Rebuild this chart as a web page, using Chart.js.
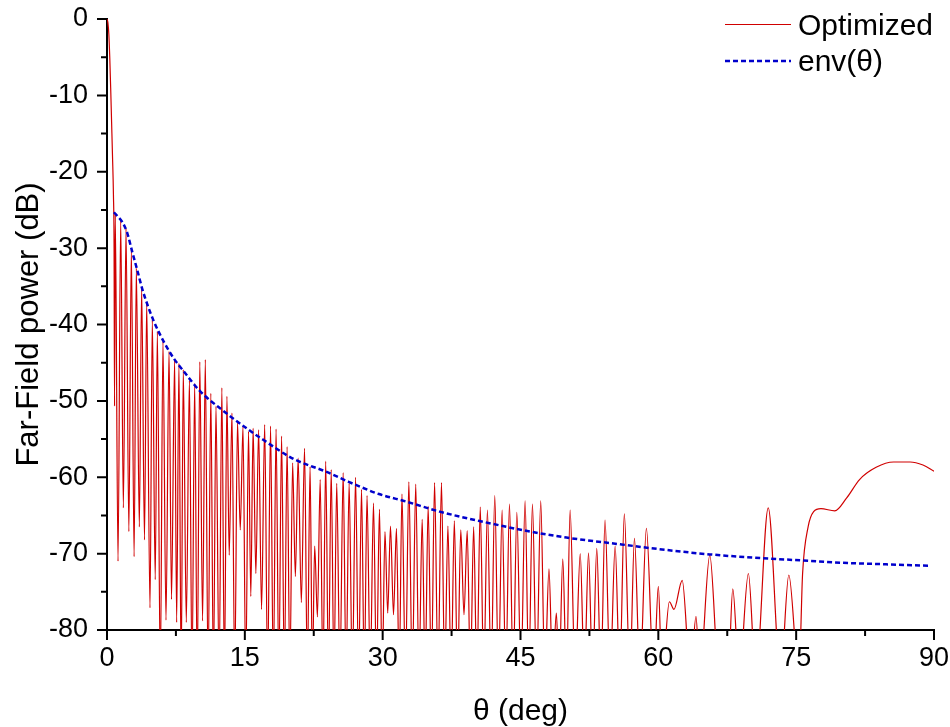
<!DOCTYPE html>
<html>
<head>
<meta charset="utf-8">
<script src="https://cdn.jsdelivr.net/npm/chart.js@4.4.1/dist/chart.umd.min.js"></script>
<style>
  html, body { margin: 0; padding: 0; background: #fff; }
  #farfield { display: block; }
</style>
</head>
<body>
<canvas id="farfield" width="950" height="727"></canvas>
<script>
// angle (deg) / far-field power (dB), peaks and nulls in order
const thetaOpt = [
  0, 0.1, 0.2, 0.3, 0.4, 0.5, 0.6, 0.7, 0.77, 0.82, 0.9, 1.2, 1.49, 1.78, 2.07, 2.38, 2.65, 2.95,
  3.19, 3.52, 3.77, 4.08, 4.32, 4.68, 4.93, 5.25, 5.48, 5.8, 6.09, 6.42, 6.75, 7.02, 7.36, 7.58, 7.83, 8.07, 8.3,
  8.63, 8.97, 9.25, 9.54, 9.82, 10.1, 10.4, 10.7, 11.0, 11.3, 11.58, 11.86, 12.2, 12.5, 12.78,
  13.05, 13.3, 13.6, 13.9, 14.2, 14.5, 14.8, 15.1, 15.4, 15.65, 15.9, 16.2, 16.5, 16.82,
  17.16, 17.48, 17.8, 18.1, 18.4, 18.7, 19.0, 19.3, 19.6, 19.9, 20.2, 20.5, 20.8, 21.15, 21.5,
  21.8, 22.1, 22.35, 22.6, 22.9, 23.2, 23.5, 23.8, 24.1, 24.4, 24.7, 25.0, 25.35, 25.7, 26.02,
  26.35, 26.7, 27.05, 27.38, 27.7, 28.0, 28.3, 28.65, 29.0, 29.33, 29.65, 29.95, 30.25, 30.55,
  30.85, 31.18, 31.5, 31.8, 32.1, 32.48, 32.85, 33.22, 33.6, 33.95, 34.3, 34.62, 34.95, 35.3,
  35.65, 36.02, 36.4, 36.75, 37.1, 37.45, 37.8, 38.15, 38.5, 38.85, 39.2, 39.55, 39.9, 40.25,
  40.62, 41.0, 41.4, 41.8, 42.2, 42.6, 43.0, 43.4, 43.8, 44.2, 44.6, 45.05, 45.5, 45.9,
  46.3, 46.75, 47.2, 47.65, 48.1, 48.5, 48.9, 49.2, 49.6, 50.0, 50.4, 50.95, 51.5, 51.95,
  52.4, 52.85, 53.3, 53.75, 54.2, 54.75, 55.3, 55.8, 56.3, 56.9, 57.4, 58.0, 58.7, 59.5,
  60.0, 60.4, 61.2, 61.7, 62.6, 63.5, 64.1, 64.5, 65.6, 66.6, 67.1, 67.6, 68.1, 68.8,
  69.8, 70.6, 71.96, 73.3, 74.2, 75.3, 75.7, 76.3, 76.9, 77.7, 79.2, 80.5, 81.9, 83.7,
  85.6, 87.4, 88.8, 90
];
const powerOpt = [
  0, -0.5, -2, -5, -9, -13.5, -18, -23, -30, -50.7, -25.5, -71, -26.3, -64, -27.4, -67.1, -30.2, -70.4,
  -32.6, -66.5, -35.2, -68.2, -37.2, -77.1, -39.4, -73.4, -40.9, -86, -42.2, -78.7, -43.5, -76, -44.6, -79, -45.1, -86, -45.9,
  -79, -47.3, -86, -47.7, -86, -44.9, -78.8, -44.6, -86, -49, -86, -50.7, -86, -48.3, -86,
  -49.4, -70.2, -51.6, -86, -52.7, -66.9, -53.4, -86, -54, -75.6, -53.6, -72.6, -53.8, -77.3,
  -53.1, -86, -53.3, -86, -53.7, -86, -54.6, -86, -56, -86, -58.1, -73, -57.5, -76.4, -56.2,
  -86, -58.6, -86, -69, -78.3, -60.3, -86, -57.9, -86, -59, -86, -60.8, -86, -59.4, -86,
  -60.8, -86, -60, -86, -61.6, -86, -62.4, -86, -63.4, -86, -64.2, -86, -67.1, -77.8,
  -66.4, -78, -66.7, -86, -62.2, -86, -60.6, -86, -60.9, -86, -65.5, -86, -63.8, -86,
  -60.7, -86, -60.7, -86, -66.4, -86, -65.7, -86, -66.9, -78, -67, -86, -66.5, -86,
  -63.9, -86, -64.3, -86, -62.4, -86, -64.3, -86, -63.5, -86, -64.6, -86, -63.1, -86,
  -63.5, -86, -63.1, -86, -72, -86, -77.8, -86, -70.7, -86, -64.3, -86, -70, -86,
  -69.9, -86, -69.3, -86, -65.6, -86, -69, -86, -64.8, -86, -68, -86, -66.7, -86,
  -74.3, -86, -76.3, -77.3, -73.5, -86, -78.2, -86, -70.2, -86, -83, -86, -74.6, -86,
  -72.6, -86, -64, -86, -72.8, -86, -72.6, -66.5, -64.5, -64.1, -64.4, -62.7, -60.3, -58.7,
  -58, -58, -58.4, -59.2
];
const thetaEnv = [
  0.76, 1.2, 1.67, 2.2, 2.75, 3.3, 3.85, 4.4, 5.1, 6.2, 7.3, 8.2, 10.1, 12.65, 15.2, 17,
  20.3, 23.9, 26.3, 29.6, 32.6, 36.2, 41.2, 46, 50, 56, 60, 65.6, 71.3, 75.8, 80.1, 84.8, 89.6
];
const powerEnv = [
  -25.3, -25.9, -26.6, -28, -30.5, -32.9, -35.4, -37.4, -39.6, -42.3, -44.5, -45.9, -48.7, -51.3, -53.6, -55.1,
  -57.6, -59.3, -60.6, -62.2, -63.2, -64.5, -65.9, -67.1, -67.9, -68.8, -69.4, -70.1, -70.6, -70.9, -71.2, -71.4, -71.6
];
const xTicks = [0, 15, 30, 45, 60, 75, 90];
const yTicks = [0, -10, -20, -30, -40, -50, -60, -70, -80];

const seriesNames = ['Optimized', 'env(\u03b8)'];
const redColor = 'rgb(208, 0, 0)';
const blueColor = '#0000cc';
const fontFamily = '"Liberation Sans", Arial, sans-serif';

// outward ticks, major + minor, like the original plot
const axisTicks = {
  id: 'axisTicks',
  afterDraw(chart) {
    const { ctx, chartArea: a, scales: { x, y } } = chart;
    ctx.save();
    ctx.strokeStyle = '#000';
    ctx.lineWidth = 2;
    ctx.beginPath();
    for (let i = 0; i < xTicks.length; i++) {
      const px = x.getPixelForValue(xTicks[i]);
      ctx.moveTo(px, a.bottom); ctx.lineTo(px, a.bottom + 10);
      if (i < xTicks.length - 1) {
        const pm = x.getPixelForValue((xTicks[i] + xTicks[i + 1]) / 2);
        ctx.moveTo(pm, a.bottom); ctx.lineTo(pm, a.bottom + 6);
      }
    }
    for (let i = 0; i < yTicks.length; i++) {
      const py = y.getPixelForValue(yTicks[i]);
      ctx.moveTo(a.left, py); ctx.lineTo(a.left - 10, py);
      if (i < yTicks.length - 1) {
        const pm = y.getPixelForValue((yTicks[i] + yTicks[i + 1]) / 2);
        ctx.moveTo(a.left, pm); ctx.lineTo(a.left - 6, pm);
      }
    }
    ctx.stroke();
    ctx.restore();
  }
};

// legend in the top right corner
const cornerLegend = {
  id: 'cornerLegend',
  afterDraw(chart) {
    const ctx = chart.ctx;
    ctx.save();
    ctx.font = '30px ' + fontFamily;
    ctx.fillStyle = '#000';
    ctx.textBaseline = 'alphabetic';
    ctx.textAlign = 'left';

    ctx.strokeStyle = redColor;
    ctx.lineWidth = 1;
    ctx.beginPath();
    ctx.moveTo(725, 24.5); ctx.lineTo(791, 24.5);
    ctx.stroke();
    ctx.fillText(seriesNames[0], 798, 35);

    ctx.strokeStyle = blueColor;
    ctx.lineWidth = 2.5;
    ctx.setLineDash([5, 3]);
    ctx.beginPath();
    ctx.moveTo(725, 61); ctx.lineTo(791, 61);
    ctx.stroke();
    ctx.setLineDash([]);
    ctx.fillText(seriesNames[1], 798, 71);
    ctx.restore();
  }
};

new Chart(document.getElementById('farfield').getContext('2d'), {
  type: 'line',
  data: {
    datasets: [{
      label: seriesNames[0],
      data: thetaOpt.map((t, i) => ({ x: t, y: powerOpt[i] })),
      borderColor: redColor,
      borderWidth: 1.2,
      pointRadius: 0,
      cubicInterpolationMode: 'monotone',
      order: 2
    }, {
      label: seriesNames[1],
      data: thetaEnv.map((t, i) => ({ x: t, y: powerEnv[i] })),
      borderColor: blueColor,
      borderWidth: 2.5,
      borderDash: [5, 3],
      pointRadius: 0,
      cubicInterpolationMode: 'monotone',
      order: 1
    }]
  },
  options: {
    responsive: false,
    animation: false,
    devicePixelRatio: 1,
    layout: { padding: { left: 0, right: 16, top: 19, bottom: 0 } },
    plugins: { legend: { display: false }, tooltip: { enabled: false } },
    scales: {
      x: {
        type: 'linear',
        min: 0,
        max: 90,
        afterFit: s => {
          s.height = 97;
          s.paddingLeft = 0; s.paddingRight = 0;
        },
        afterBuildTicks: s => { s.ticks = xTicks.map(v => ({ value: v })); },
        grid: { display: false, drawTicks: false },
        border: { display: true, color: '#000', width: 2 },
        ticks: {
          color: '#000',
          padding: 12,
          maxRotation: 0,
          font: { family: fontFamily, size: 27 },
          callback: v => String(v)
        },
        title: {
          display: true,
          text: '\u03b8 (deg)',
          color: '#000',
          font: { family: fontFamily, size: 30, lineHeight: 1 },
          padding: 0
        }
      },
      y: {
        type: 'linear',
        min: -80,
        max: 0,
        afterFit: s => {
          s.width = 107;
          s.paddingTop = 0; s.paddingBottom = 0;
        },
        afterBuildTicks: s => { s.ticks = yTicks.map(v => ({ value: v })); },
        grid: { display: false, drawTicks: false },
        border: { display: true, color: '#000', width: 2 },
        ticks: {
          color: '#000',
          padding: 19,
          font: { family: fontFamily, size: 27 },
          callback: v => String(v)
        },
        title: {
          display: true,
          text: 'Far-Field power (dB)',
          color: '#000',
          font: { family: fontFamily, size: 31, lineHeight: 1 },
          padding: { top: 14, bottom: 0 }
        }
      }
    }
  },
  plugins: [axisTicks, cornerLegend]
});
</script>
</body>
</html>
